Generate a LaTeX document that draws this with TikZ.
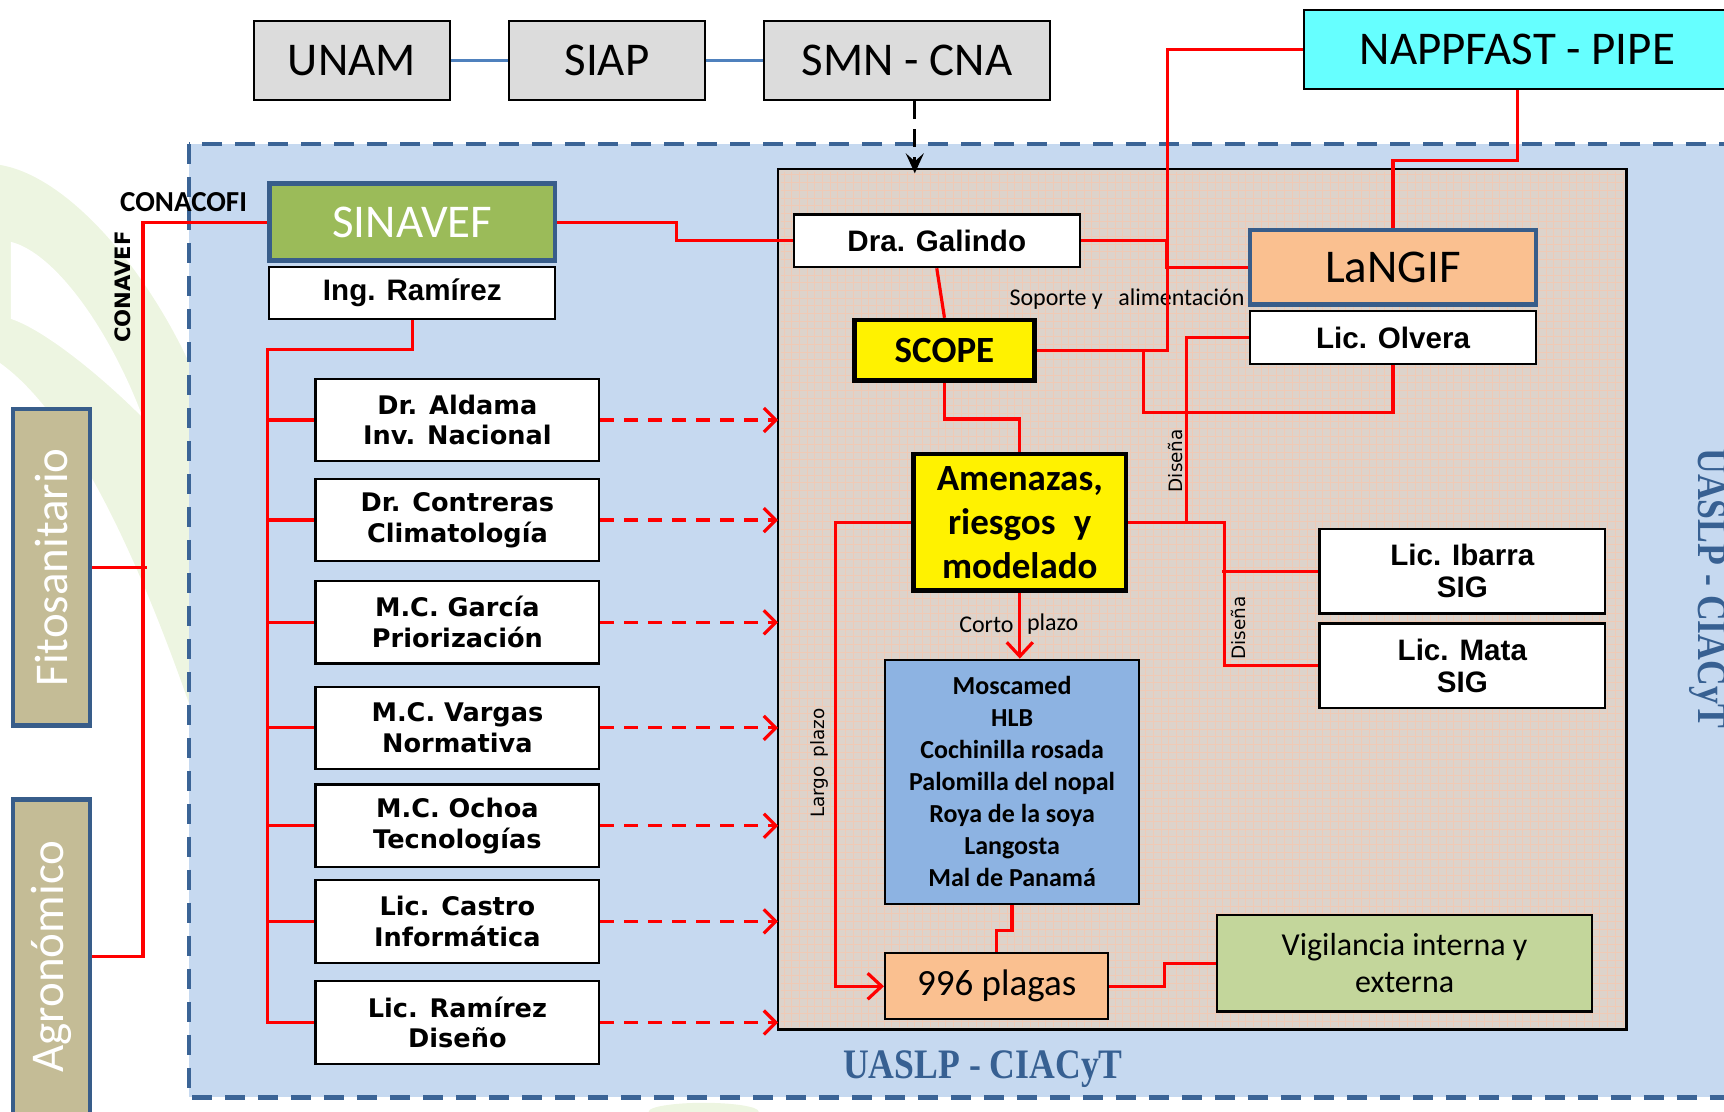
\documentclass[tikz,border=0pt]{standalone}
\usepackage{fontspec}
\usepackage{graphicx}
\setmainfont{Carlito}
\newfontfamily\verd{DejaVu Sans}
\newfontfamily\arl{Liberation Sans}
\newfontfamily\tms{Liberation Serif}
\usetikzlibrary{arrows.meta,calc}

\definecolor{regionblue}{HTML}{C6D9F0}
\definecolor{dashblue}{HTML}{3B6496}
\definecolor{tanbox}{HTML}{DDD3CB}
\definecolor{gridpink}{HTML}{EFCAB6}
\definecolor{topgray}{HTML}{DCDCDC}
\definecolor{napcyan}{HTML}{66FFFF}
\definecolor{sinagreen}{HTML}{9BBB59}
\definecolor{frameblue}{HTML}{385D8A}
\definecolor{peach}{HTML}{FAC090}
\definecolor{sidetan}{HTML}{C4BC96}
\definecolor{pestblue}{HTML}{8DB3E2}
\definecolor{vigigreen}{HTML}{C3D69B}
\definecolor{linkblue}{HTML}{4F81BD}
\definecolor{uaslpblue}{HTML}{376092}
\definecolor{leafgreen}{HTML}{EDF5E1}

\tikzset{
  px/.style 2 args={minimum width=#1*0.55pt, minimum height=#2*0.55pt},
  basebox/.style={draw=black, line width=1.1pt, inner sep=0pt, align=center},
  topbox/.style={basebox, fill=topgray, font=\fontsize{23.5}{28}\selectfont},
  framed/.style={basebox, draw=frameblue, line width=2.2pt, font=\fontsize{23.5}{28}\selectfont},
  staffbox/.style={basebox, fill=white, px={258}{75}, font=\verd\bfseries\fontsize{12.8}{15.4}\selectfont},
  namebox/.style={basebox, fill=white, font=\arl\bfseries\fontsize{14.8}{16}\selectfont},
  yelbox/.style={basebox, fill=yellow, line width=2.2pt},
  redline/.style={draw=red, line width=1.6pt},
  redarrow/.style={redline, -{Straight Barb[length=7pt,width=13pt]}},
  reddash/.style={redline, dash pattern=on 7pt off 5pt, -{Straight Barb[length=6pt,width=12pt]}},
  bluelink/.style={draw=linkblue, line width=1.1pt},
  smnarrow/.style={draw=black, line width=1.6pt, dash pattern=on 9pt off 5pt, -{Stealth[length=10pt,width=9pt,inset=4pt]}},
  region/.style={fill=regionblue, draw=dashblue, line width=2.2pt, dash pattern=on 10pt off 6.5pt},
  gridline/.style={draw=gridpink, line width=0.35pt},
  lbl/.style={inner sep=1pt, font=\fontsize{12}{14}\selectfont},
  smalllbl/.style={inner sep=1pt, font=\verd\fontsize{9.2}{11}\selectfont},
  uaslp/.style={inner sep=0pt, text=uaslpblue, font=\tms\bfseries\fontsize{21}{23}\selectfont}
}

\begin{document}
\begin{tikzpicture}[x=0.55pt,y=-0.55pt]
  \clip (0,0) rectangle (1568,1011);
  % faint leaf behind
  \fill[leafgreen] (0,150) .. controls (60,160) and (130,240) .. (172,330) -- (172,640) .. controls (130,520) and (70,380) .. (0,330) -- cycle;
  \fill[white] (10,220) .. controls (50,230) and (100,300) .. (130,380) .. controls (90,340) and (40,300) .. (10,290) -- cycle;
  \fill[leafgreen] (640,1011) ellipse (50 and 8);

  % UASLP region and working box
  \draw[region] (172,131) rectangle (1600,998);
  \node[fill=tanbox, inner sep=0pt, px={771}{782}] (inner) at (1093.5,545) {};
  \foreach \gx in {713,720,...,1476} \draw[gridline] (\gx,156) -- (\gx,934);
  \foreach \gy in {159,166,...,933} \draw[gridline] (710,\gy) -- (1477,\gy);
  \draw[line width=1.1pt] (inner.south west) rectangle (inner.north east);

  % top row
  \node[topbox, px={178}{72}] (unam) at (320,55) {UNAM};
  \node[topbox, px={178}{72}] (siap) at (552,55) {SIAP};
  \node[topbox, px={260}{72}] (smn) at (825,55) {SMN - CNA};
  \node[topbox, fill=napcyan, px={388}{72}] (napp) at (1380,45) {NAPPFAST - PIPE};
  \draw[bluelink] (unam) -- (siap);
  \draw[bluelink] (siap) -- (smn);
  \draw[smnarrow] ($(smn.south)+(7,0)$) -- ($(smn.south |- inner.north)+(7,4)$);

  % left side
  \node[framed, fill=sidetan, text=white, rotate=90, px={288}{70}] (fito) at (47,516) {Fitosanitario};
  \node[framed, fill=sidetan, text=white, rotate=90, px={286}{70}] (agro) at (47,870) {Agronómico};
  \node[inner sep=0pt, font=\bfseries\fontsize{14.5}{16}\selectfont] (conacofi) at (167,184) {CONACOFI};
  \node[inner sep=0pt, rotate=90, font=\verd\bfseries\fontsize{10.6}{12}\selectfont] (conavef) at (112,261) {CONAVEF};

  \node[framed, fill=sinagreen, text=white, px={260}{70}] (sinavef) at (375,202) {SINAVEF};
  \node[namebox, px={260}{47}] (ingram) at (375,266.5) {Ing. Ramírez};

  \foreach \i/\y/\na/\nb in {1/382/Dr. Aldama/Inv. Nacional, 2/473/Dr. Contreras/Climatología,
      3/566/M.C. García/Priorización, 4/662/M.C. Vargas/Normativa, 5/751/M.C. Ochoa/Tecnologías,
      6/838/Lic. Castro/Informática, 7/930/Lic. Ramírez/Diseño}
    \node[staffbox] (s\i) at (416,\y) {\na\\\nb};

  % inside the working box
  \node[namebox, px={260}{48}] (galindo) at (852,219) {Dra. Galindo};
  \node[framed, fill=peach, px={260}{68}] (langif) at (1267,243) {LaNGIF};
  \node[namebox, px={260}{48}] (olvera) at (1267,307) {Lic. Olvera};
  \node[yelbox, px={164}{55}, font=\bfseries\fontsize{18.5}{22}\selectfont] (scope) at (859,318.5) {SCOPE};
  \node[yelbox, px={193}{124}, font=\bfseries\fontsize{18.5}{22}\selectfont] (amen) at (927.5,475) {Amenazas,\\riesgos\enspace y\\modelado};
  \node[basebox, fill=pestblue, px={231}{222}, font=\bfseries\fontsize{13}{16}\selectfont] (pests) at (920.5,711)
    {Moscamed\\HLB\\Cochinilla rosada\\Palomilla del nopal\\Roya de la soya\\Langosta\\Mal de Panamá};
  \node[basebox, fill=peach, px={203}{60}, font=\fontsize{18.5}{22}\selectfont] (plagas) at (906.5,897) {996 plagas};
  \node[basebox, fill=vigigreen, px={341}{88}, font=\fontsize{16}{18.7}\selectfont] (vigil) at (1277.5,876) {Vigilancia interna y\\externa};
  \node[namebox, px={260}{77}] (ibarra) at (1330,519.5) {Lic. Ibarra\\SIG};
  \node[namebox, px={260}{77}] (mata) at (1330,605.5) {Lic. Mata\\SIG};

  % labels
  \node[lbl] (soporte) at (1025,272) {Soporte y\hspace{5pt} alimentación};
  \node[lbl, anchor=east] (corto) at (924,568) {Corto};
  \node[lbl, anchor=west] (plazo) at (932,568) {plazo};
  \node[smalllbl, rotate=90] (disena1) at (1069,419) {Diseña};
  \node[smalllbl, rotate=90] (disena2) at (1126,571) {Diseña};
  \node[smalllbl, rotate=90] (largo) at (745,694) {Largo\enspace plazo};
  \node[uaslp] (ubot) at (894,972) {\scalebox{0.85}[1]{UASLP - CIACyT}};
  \node[uaslp, rotate=-90] (uright) at (1553,535) {\scalebox{0.85}[1]{UASLP - CIACyT}};

  % red connectors
  \draw[redline] (sinavef.west) -- ++(-113,0) |- (agro.south); % rotated: south is the right side
  \draw[redline] (fito.south) -- ++(50,0);
  \coordinate (bus) at (243,318);
  \draw[redline] (ingram.south) |- (bus) |- (s7.west);
  \foreach \i in {1,...,7}{
    \draw[redline] (s\i.west) -- ++(-44,0);
    \draw[reddash] (s\i.east) -- (s\i.east -| inner.west);
  }
  \draw[redline] (sinavef.east) -- ++(108,0) |- (galindo.west);
  \draw[redline] (galindo.east) -- ++(78,0) |- (langif.west);
  \draw[redline] (galindo.south) -- (scope.north);
  \draw[redline] (napp.west) -- ++(-123,0) |- (scope.east);
  \draw[redline] (napp.south) -- ++(0,64) -| (langif.north);
  \coordinate (j1) at (1040,318);
  \draw[redline] (olvera.south) |- (1040,375) -- (j1);
  \draw[redline] (olvera.west) -- ++(-57,0) |- (amen.east);
  \draw[redline] (amen.east) -- ++(88,0) |- (mata.west);
  \draw[redline] (ibarra.west) -- ++(-88,0);
  \draw[redline] (scope.south) -- ++(0,33) -| (amen.north);
  \draw[redarrow] (amen.south) -- (amen.south |- pests.north);
  \draw[redarrow] (amen.west) -- ++(-69,0) |- (plagas.west);
  \draw[redline] (pests.south) -- ++(0,23) -| (plagas.north);
  \draw[redline] (plagas.east) -- ++(50,0) |- (vigil.west);
\end{tikzpicture}
\end{document}
